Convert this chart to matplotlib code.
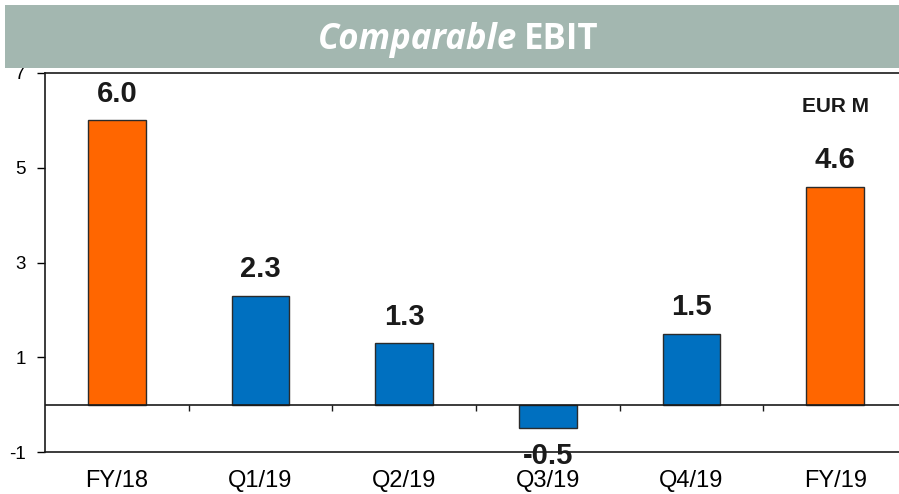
import matplotlib
matplotlib.use("Agg")
import matplotlib.pyplot as plt
from matplotlib.patches import Rectangle
import numpy as np

categories = ["FY/18", "Q1/19", "Q2/19", "Q3/19", "Q4/19", "FY/19"]
values = [6.0, 2.3, 1.3, -0.5, 1.5, 4.6]
is_full_year = [True, False, False, False, False, True]
yticks = [-1, 1, 3, 5, 7]

ORANGE = "#FF6600"
BLUE = "#0070C0"
HEADER = "#A3B7B0"

plt.rcParams['font.family'] = ['Liberation Sans', 'DejaVu Sans']

W, H = 899, 494
fig = plt.figure(figsize=(W / 100, H / 100), dpi=100)
ax = fig.add_axes([45 / W, 1 - 452 / H, (907 - 45) / W, (452 - 73) / H])

x = np.arange(len(categories))
colors = [ORANGE if f else BLUE for f in is_full_year]
bars = ax.bar(x, values, width=0.4, color=colors, edgecolor="#2b2b2b", linewidth=1.0, zorder=3)

ax.set_xlim(-0.5, len(categories) - 0.5)
ax.set_ylim(-1, 7)
ax.set_yticks(yticks)
ax.set_yticklabels([str(t) for t in yticks], fontsize=13.5)
ax.set_xticks(x)
ax.set_xticklabels(categories, fontsize=17)
ax.tick_params(axis='x', length=0, pad=13)
ax.tick_params(axis='y', direction='out', length=6, width=1.0, pad=8)

for s in ax.spines.values():
    s.set_linewidth(1.2)
    s.set_color("#1a1a1a")

# zero line with separator tick marks
ax.axhline(0, color="#1a1a1a", linewidth=1.2, zorder=4)
bounds = x[:-1] + 0.5
ax.vlines(bounds, -0.13, 0, color="#1a1a1a", linewidth=1.0, zorder=4)

for xi, v in zip(x, values):
    if v >= 0:
        ax.annotate(f"{v:.1f}", (xi, v), xytext=(0, 9), textcoords="offset points",
                    ha="center", va="bottom", fontsize=21, fontweight="bold", color="#1a1a1a")
    else:
        ax.annotate(f"{v:.1f}", (xi, v), xytext=(0, -10), textcoords="offset points",
                    ha="center", va="top", fontsize=21, fontweight="bold", color="#1a1a1a",
                    zorder=5)

ax.text(5, 6.3, "EUR M", ha="center", va="center", fontsize=15, fontweight="bold", color="#1a1a1a")

# header band
fig.patches.append(Rectangle((5 / W, 1 - 68 / H), (W - 5) / W, 63 / H, transform=fig.transFigure,
                             facecolor=HEADER, edgecolor="none", zorder=10))

# title with mixed styles
ty = 1 - 40 / H
t1 = fig.text(0, ty, "Comparable", fontsize=25, fontweight="bold", fontstyle="italic",
              color="white", va="center", ha="left", family=["Open Sans", "DejaVu Sans"], zorder=11)
t2 = fig.text(0, ty, "EBIT", fontsize=25, fontweight="bold",
              color="white", va="center", ha="left", family=["Open Sans", "DejaVu Sans"], zorder=11)
fig.canvas.draw()
r = fig.canvas.get_renderer()
w1 = t1.get_window_extent(r).width
w2 = t2.get_window_extent(r).width
gap = 7
total = w1 + gap + w2
start = 458 - total / 2
t1.set_x(start / W)
t2.set_x((start + w1 + gap) / W)

fig.savefig("out.png", dpi=100)
